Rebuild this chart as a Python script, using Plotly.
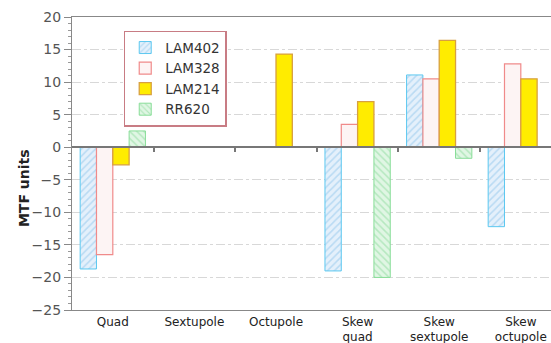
import plotly.graph_objects as go

categories = ["Quad", "Sextupole", "Octupole", "Skew<br>quad", "Skew<br>sextupole", "Skew<br>octupole"]
lam402 = [-18.7, None, None, -19.0, 11.1, -12.2]
lam328 = [-16.5, None, None, 3.5, 10.5, 12.8]
lam214 = [-2.7, None, 14.3, 7.0, 16.4, 10.5]
rr620 = [2.5, None, None, -20.0, -1.7, None]
y_ticks = [-25, -20, -15, -10, -5, 0, 5, 10, 15, 20]

xpos = list(range(len(categories)))

fig = go.Figure()
fig.add_bar(x=xpos, y=lam402, name="LAM402",
            marker=dict(color="#dcecfa", line=dict(color="#5cc8f0", width=1),
                        pattern=dict(shape="/", fgcolor="#8cc4ec", bgcolor="#e4f0fb", size=5, solidity=0.3)))
fig.add_bar(x=xpos, y=lam328, name="LAM328",
            marker=dict(color="#fdf4f4", line=dict(color="#f08a8a", width=1.2)))
fig.add_bar(x=xpos, y=lam214, name="LAM214",
            marker=dict(color="#ffec00", line=dict(color="#d8a040", width=1.3)))
fig.add_bar(x=xpos, y=rr620, name="RR620",
            marker=dict(color="#d8f4dc", line=dict(color="#88dd98", width=1),
                        pattern=dict(shape="\\", fgcolor="#8ada9a", bgcolor="#e0f6e4", size=5, solidity=0.3)))

# axis through zero with category separator ticks
fig.add_trace(go.Scatter(x=[0], y=[None], xaxis="x2", showlegend=False, hoverinfo="skip"))

fig.update_layout(
    width=551, height=343,
    margin=dict(l=72, r=0, t=17, b=33),
    paper_bgcolor="white", plot_bgcolor="white",
    barmode="group", bargap=0.2, bargroupgap=0,
    font=dict(family="DejaVu Sans", color="#444"),
    legend=dict(x=0.108, y=0.953, xanchor="left", yanchor="top",
                bgcolor="white", bordercolor="#c87c84", borderwidth=1.5,
                font=dict(size=13.5, color="#333"), tracegroupgap=0,
                itemwidth=30),
    xaxis=dict(range=[-0.5, 5.37], tickmode="array", tickvals=xpos, ticktext=categories,
               showline=True, linecolor="#888", linewidth=1.2, mirror=True,
               showgrid=False, zeroline=False, ticks="",
               tickfont=dict(family="DejaVu Sans", size=12, color="#222")),
    xaxis2=dict(overlaying="x", range=[-0.5, 5.37], anchor="free", position=25/45,
                side="bottom", tickmode="array", tickvals=[0.5, 1.5, 2.5, 3.5, 4.5],
                ticks="outside", ticklen=4, tickwidth=1.5, tickcolor="#777",
                showticklabels=False, showline=True, linecolor="#777", linewidth=1.5,
                showgrid=False, zeroline=False),
    yaxis=dict(range=[-25, 20], tickmode="array", tickvals=y_ticks,
               showline=True, linecolor="#888", linewidth=1.2,
               ticks="outside", ticklen=7, tickcolor="#888",
               minor=dict(ticks="outside", dtick=1, ticklen=3, tickcolor="#999", showgrid=False),
               showgrid=True, gridcolor="#d8d8d8", griddash="dashdot", gridwidth=1,
               zeroline=False,
               tickfont=dict(family="DejaVu Sans", size=14, color="#555")),
    annotations=[dict(text="<b>MTF units</b>", textangle=-90, xref="paper", yref="paper",
                      x=-0.1, y=(310 - 188) / 293, xanchor="center", yanchor="middle",
                      showarrow=False, font=dict(family="DejaVu Sans", size=14, color="#222"))],
)

fig.write_html("out.html")
